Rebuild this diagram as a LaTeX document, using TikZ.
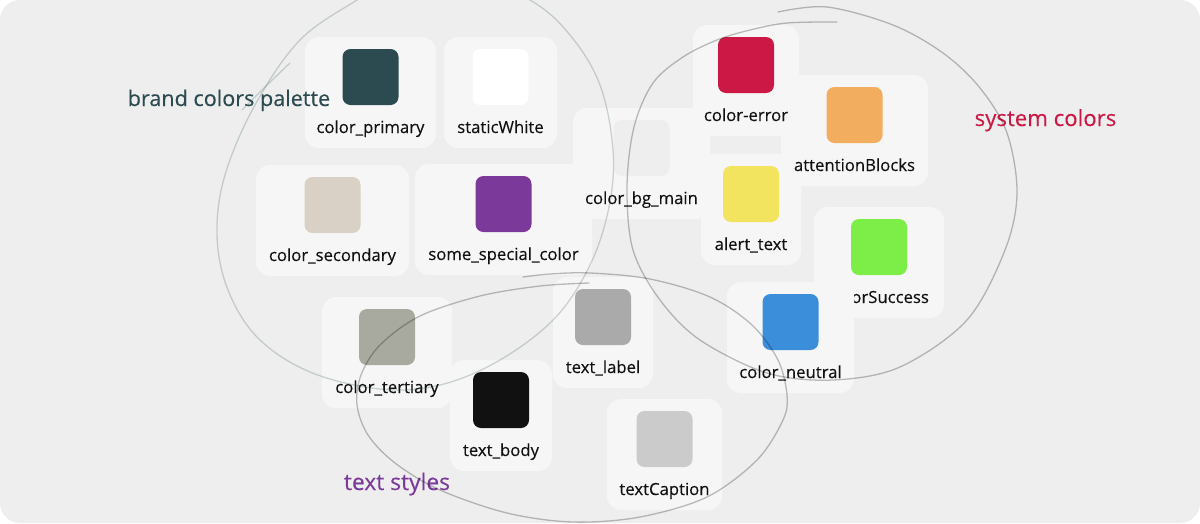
\documentclass[tikz,border=0pt]{standalone}
\usepackage{fontspec}
\setmainfont{Open Sans}
\newfontfamily\medfont{Open Sans}[FakeBold=0.25]
\definecolor{bgc}{HTML}{EEEEEE}
\definecolor{tilec}{HTML}{F6F6F6}
\definecolor{labelc}{HTML}{111111}
\definecolor{cPrimary}{HTML}{2B4B50}
\definecolor{cSecondary}{HTML}{D9D1C5}
\definecolor{cSpecial}{HTML}{7B3A9A}
\definecolor{cError}{HTML}{CC1844}
\definecolor{cAttention}{HTML}{F2AD5E}
\definecolor{cAlert}{HTML}{F2E45E}
\definecolor{cSuccess}{HTML}{7DEE48}
\definecolor{cNeutral}{HTML}{3B8ED9}
\definecolor{cTertiary}{HTML}{A8AAA0}
\definecolor{cLabel}{HTML}{AAAAAA}
\definecolor{cBody}{HTML}{111111}
\definecolor{cCaption}{HTML}{CBCBCB}
\newcommand\swtile[6]{%
  \node[tilebox, minimum width=#4pt] (#1) at (#2,#3+55.5) {};
  \node[swatchbox, fill=#5] (#1sw) at (#2,#3+40) {};
  \node[labeltext] (#1lb) at (#2,#3+96) {#6};
}
\begin{document}
\begin{tikzpicture}[x=1pt,y=-1pt,
  tilebox/.style={fill=tilec, rounded corners=14pt, minimum height=111pt, inner sep=0pt, draw=none},
  swatchbox/.style={rounded corners=8pt, minimum width=56pt, minimum height=56pt, inner sep=0pt, draw=none},
  labeltext/.style={font=\medfont\fontsize{16.7}{20}\selectfont, text=labelc, inner sep=0pt, anchor=base},
  titletext/.style={inner sep=0pt, anchor=base},
  grayloop/.style={draw=black, draw opacity=0.25, line width=1.3pt, line cap=round, line join=round},
  brandloop/.style={draw=cPrimary, draw opacity=0.22, line width=1.3pt, line cap=round, line join=round}]
\useasboundingbox (0,0) rectangle (1200,523);
\fill[white] (0,0) rectangle (1200,523);
\fill[bgc, rounded corners=20pt] (0,0) rectangle (1200,523);

\swtile{primary}{370.5}{37}{131}{cPrimary}{color\_primary}
\swtile{white}{500.5}{37}{113}{white}{staticWhite}
\swtile{secondary}{332.5}{165}{153}{cSecondary}{color\_secondary}
\swtile{special}{503.5}{164}{177}{cSpecial}{some\_special\_color}
\swtile{bgmain}{641.5}{108}{137}{bgc}{color\_bg\_main}
\swtile{alert}{751}{154}{100}{cAlert}{alert\_text}
\swtile{attention}{854.5}{75}{147}{cAttention}{attentionBlocks}
\swtile{error}{746}{25}{106}{cError}{color-error}
\swtile{success}{879}{207}{130}{cSuccess}{colorSuccess}
\swtile{neutral}{790.5}{282}{127}{cNeutral}{color\_neutral}
\swtile{tertiary}{387}{297}{130}{cTertiary}{color\_tertiary}
\swtile{tlabel}{603}{277}{100}{cLabel}{text\_label}
\swtile{body}{501}{360}{102}{cBody}{text\_body}
\swtile{caption}{664.5}{399}{115}{cCaption}{textCaption}

\node[titletext, text=cPrimary, font=\medfont\fontsize{21.6}{26}\selectfont] (brandtitle) at (229,106) {brand colors palette};
\node[titletext, text=cError, font=\medfont\fontsize{22.2}{26}\selectfont] (systitle) at (1045.5,126) {system colors};
\node[titletext, text=cSpecial, font=\medfont\fontsize{22.8}{26}\selectfont] (texttitle) at (397,490) {text styles};

\begin{scope}
\clip[rounded corners=20pt] (0,0) rectangle (1200,523);
% brand colors loop
\draw[brandloop] plot[smooth cycle, tension=0.6] coordinates {
  (357,0) (300,40) (255,105) (225,175) (217,235) (228,290) (258,338)
  (310,372) (380,389) (440,385) (500,360) (555,318) (590,265) (609,207)
  (613,150) (600,85) (570,35) (530,0) (460,-30) (400,-25)};
\draw[brandloop] plot[smooth, tension=0.5] coordinates {(290,63) (266,86) (242,110)};
% system colors loop
\draw[grayloop] plot[smooth, tension=0.55] coordinates {
  (837,22) (787,23) (750,30) (717,40) (683,57) (653,83) (634,127) (627,187)
  (633,250) (660,300) (700,340) (767,373) (833,380) (900,367) (967,320)
  (1005,250) (1017,193) (1007,133) (980,88) (943,53) (893,25) (827,7) (778,12)};
% text styles loop
\draw[grayloop] plot[smooth, tension=0.55] coordinates {
  (589,283) (540,286) (480,296) (420,316) (380,345) (361,375) (357,405)
  (368,435) (395,463) (440,490) (507,513) (573,522) (640,517) (707,497)
  (757,460) (783,420) (787,395) (778,360) (752,325) (710,297) (650,279)
  (590,273) (550,274) (523,277)};
\end{scope}
\end{tikzpicture}
\end{document}
